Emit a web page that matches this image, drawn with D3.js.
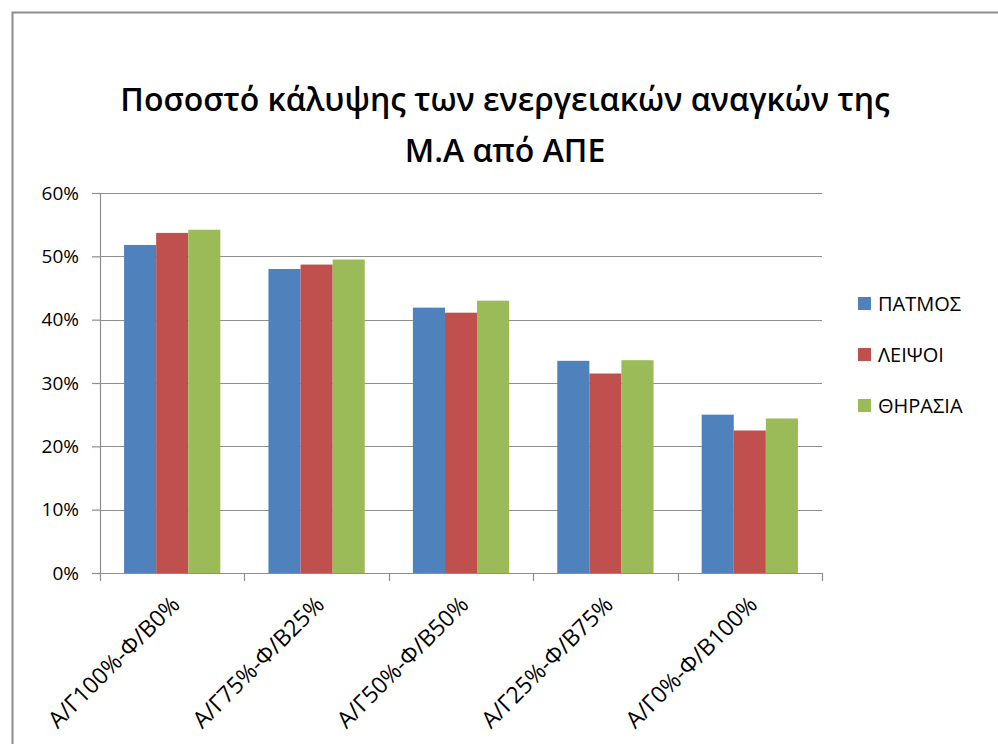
<!DOCTYPE html>
<html>
<head>
<meta charset="utf-8">
<script src="https://cdn.jsdelivr.net/npm/d3@7"></script>
<style>
  html, body { margin: 0; padding: 0; background: #fff; }
  svg { display: block; }
  text { font-family: "Open Sans", "Noto Sans", "DejaVu Sans", sans-serif; fill: #000; }
</style>
</head>
<body>
<svg id="chart" width="998" height="744"></svg>
<script>
// Scenario categories (share of wind / solar mix)
const categories = ["Α/Γ100%-Φ/Β0%", "Α/Γ75%-Φ/Β25%", "Α/Γ50%-Φ/Β50%", "Α/Γ25%-Φ/Β75%", "Α/Γ0%-Φ/Β100%"];
const seriesNames = ["ΠΑΤΜΟΣ", "ΛΕΙΨΟΙ", "ΘΗΡΑΣΙΑ"];
const patmos   = [0.518, 0.480, 0.419, 0.335, 0.250];
const leipsoi  = [0.537, 0.487, 0.411, 0.315, 0.225];
const thirasia = [0.542, 0.495, 0.430, 0.336, 0.244];
const seriesValues = [patmos, leipsoi, thirasia];
const yTicks = [0, 0.1, 0.2, 0.3, 0.4, 0.5, 0.6];
const titleLines = ["Ποσοστό κάλυψης των ενεργειακών αναγκών της", "Μ.Α από ΑΠΕ"];
const colors = ["#4F81BD", "#C0504D", "#9BBB59"];

const svg = d3.select("#chart");

// Outer chart frame
svg.append("rect")
  .attr("x", 12.5).attr("y", 12.5)
  .attr("width", 1100).attr("height", 900)
  .attr("fill", "none").attr("stroke", "#8c8c8c").attr("stroke-width", 2);

const plot = { left: 100, right: 822, top: 193, bottom: 573 };

const x = d3.scaleBand().domain(categories).range([plot.left, plot.right]).paddingInner(0).paddingOuter(0);
// bars take 3 widths out of 4.5 per category (gap = 1.5 bar widths)
const gapShare = 1.5 / 4.5;
const x1 = d3.scaleBand().domain(d3.range(seriesNames.length))
  .range([x.bandwidth() * gapShare / 2, x.bandwidth() * (1 - gapShare / 2)]);
const y = d3.scaleLinear().domain([0, 0.6]).range([plot.bottom, plot.top]);

// Horizontal gridlines
svg.append("g").selectAll("line").data(yTicks.filter(d => d > 0)).join("line")
  .attr("x1", plot.left).attr("x2", plot.right)
  .attr("y1", d => Math.round(y(d)) + 0.5).attr("y2", d => Math.round(y(d)) + 0.5)
  .attr("stroke", "#8e8e8e").attr("stroke-width", 1.2);

// Bars
const groups = svg.append("g").selectAll("g").data(categories).join("g")
  .attr("transform", c => `translate(${x(c)},0)`);
groups.selectAll("rect")
  .data((c, i) => seriesValues.map((vals, s) => ({ s, v: vals[i] })))
  .join("rect")
  .attr("x", d => x1(d.s))
  .attr("width", x1.bandwidth())
  .attr("y", d => y(d.v))
  .attr("height", d => y(0) - y(d.v))
  .attr("fill", d => colors[d.s]);

// Y axis
const yAxis = d3.axisLeft(y).tickValues(yTicks).tickFormat(d3.format(".0%")).tickSize(8).tickPadding(13);
const gy = svg.append("g").attr("transform", `translate(${plot.left},0)`).call(yAxis);
gy.select(".domain").attr("stroke", "#8e8e8e").attr("stroke-width", 1.2);
gy.selectAll(".tick line").attr("stroke", "#8e8e8e").attr("stroke-width", 1.2);
gy.selectAll(".tick text").style("font-size", "19px").attr("fill", "#111");

// X axis line and boundary ticks
const gx = svg.append("g");
gx.append("line")
  .attr("x1", plot.left - 8).attr("x2", plot.right)
  .attr("y1", y(0) + 0.5).attr("y2", y(0) + 0.5)
  .attr("stroke", "#8e8e8e").attr("stroke-width", 1.2);
const boundaries = categories.map(c => x(c)).concat([x.range()[1]]);
gx.selectAll("line.tick").data(boundaries).join("line").attr("class", "tick")
  .attr("x1", d => Math.round(d) + 0.5).attr("x2", d => Math.round(d) + 0.5)
  .attr("y1", y(0)).attr("y2", y(0) + 8)
  .attr("stroke", "#8e8e8e").attr("stroke-width", 1.2);
gx.selectAll("text").data(categories).join("text")
  .attr("transform", c => `translate(${x(c) + x.bandwidth() / 2 + 9},${y(0) + 33}) rotate(-45)`)
  .attr("text-anchor", "end")
  .style("font-size", "23px")
  .attr("fill", "#111")
  .text(c => c);

// Title
const title = svg.append("text")
  .attr("text-anchor", "middle")
  .style("font-size", "32px").style("font-weight", "600");
title.append("tspan").attr("x", 505).attr("y", 111).text(titleLines[0]);
title.append("tspan").attr("x", 505).attr("y", 162).text(titleLines[1]);

// Legend
const legend = svg.append("g").attr("transform", "translate(858,297)");
const item = legend.selectAll("g").data(seriesNames).join("g")
  .attr("transform", (d, i) => `translate(0,${i * 51})`);
item.append("rect").attr("width", 13).attr("height", 13).attr("fill", (d, i) => colors[i]);
item.append("text").attr("x", 20).attr("y", 14).style("font-size", "20px").attr("fill", "#111").text(d => d);
</script>
</body>
</html>
